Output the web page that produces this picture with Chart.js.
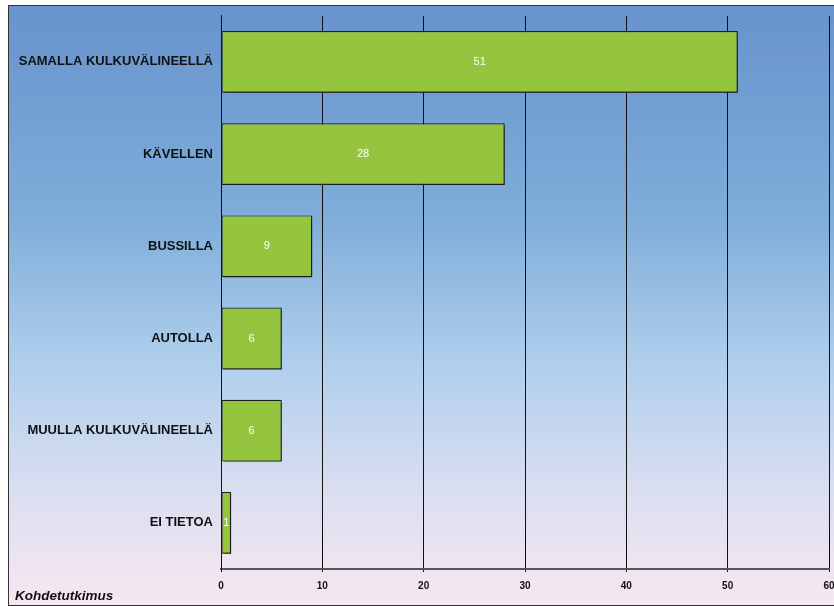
<!DOCTYPE html>
<html>
<head>
<meta charset="utf-8">
<script src="https://cdn.jsdelivr.net/npm/chart.js@4/dist/chart.umd.min.js"></script>
<style>
  html, body { margin: 0; padding: 0; overflow: hidden; background: #fff; }
  #frame {
    position: absolute; left: 8px; top: 5px; width: 900px; height: 599px;
    border: 1px solid #333;
    background: linear-gradient(to bottom, #6893cd 0%, #7eadd9 35%, #b0cfec 60%, #dcdff0 82%, #f7e7f1 100%);
  }
  #wrap { position: absolute; left: 0; top: 0; width: 850px; height: 606px; }
  #note {
    position: absolute; left: 15px; top: 588px;
    font: italic bold 13.5px "Liberation Sans", Arial, sans-serif; color: #111;
  }
</style>
</head>
<body>
<div id="frame"></div>
<div id="wrap"><canvas id="kulku"></canvas></div>
<div id="note">Kohdetutkimus</div>
<script>
// aineisto
const categories = ['SAMALLA KULKUVÄLINEELLÄ', 'KÄVELLEN', 'BUSSILLA', 'AUTOLLA', 'MUULLA KULKUVÄLINEELLÄ', 'EI TIETOA'];
const values = [51, 28, 9, 6, 6, 1];
const xTicks = [0, 10, 20, 30, 40, 50, 60];

const fontFam = '"Liberation Sans", Arial, sans-serif';

// varjo palkeille + arvot
const barShadow = {
  id: 'barShadow',
  beforeDatasetsDraw(chart) {
    const c = chart.ctx;
    c.save();
    c.shadowColor = 'rgba(30,30,30,0.75)';
    c.shadowOffsetX = 2;
    c.shadowOffsetY = 2;
    c.shadowBlur = 0;
  },
  afterDatasetsDraw(chart) {
    chart.ctx.restore();
    const c = chart.ctx;
    const meta = chart.getDatasetMeta(0);
    c.save();
    c.fillStyle = '#fff';
    c.font = '11px ' + fontFam;
    c.textAlign = 'center';
    c.textBaseline = 'middle';
    meta.data.forEach((bar, i) => {
      const cx = (bar.x + bar.base) / 2;
      c.fillText(values[i], cx, bar.y);
    });
    c.restore();
  }
};

window.onload = function () {
  new Chart(document.getElementById('kulku'), {
    type: 'bar',
    data: {
      labels: categories,
      datasets: [{
        data: values,
        backgroundColor: '#95c43e',
        borderColor: '#1e1e1e',
        borderWidth: 1.2,
        borderSkipped: false,
        barPercentage: 0.67,
        categoryPercentage: 1
      }]
    },
    options: {
      indexAxis: 'y',
      responsive: true,
      maintainAspectRatio: false,
      animation: false,
      layout: { padding: { left: 0, top: 14, right: 21, bottom: 0 } },
      plugins: { legend: { display: false }, tooltip: { enabled: false } },
      scales: {
        x: {
          min: 0, max: 60,
          afterBuildTicks: s => { s.ticks = xTicks.map(v => ({ value: v })); },
          afterFit: s => { s.height = 37; },
          grid: { color: '#111', lineWidth: 1, tickLength: 3, drawTicks: true },
          border: { color: '#555', width: 2 },
          ticks: {
            color: '#111', padding: 8, maxRotation: 0,
            font: { family: fontFam, size: 10, weight: 'bold' }
          }
        },
        y: {
          afterFit: s => { s.width = 221; },
          grid: { display: false, drawTicks: false, tickLength: 0 },
          border: { color: '#111', width: 1 },
          ticks: {
            color: '#111', padding: 8,
            font: { family: fontFam, size: 13, weight: 'bold' }
          }
        }
      }
    },
    plugins: [barShadow]
  });
};
</script>
</body>
</html>
